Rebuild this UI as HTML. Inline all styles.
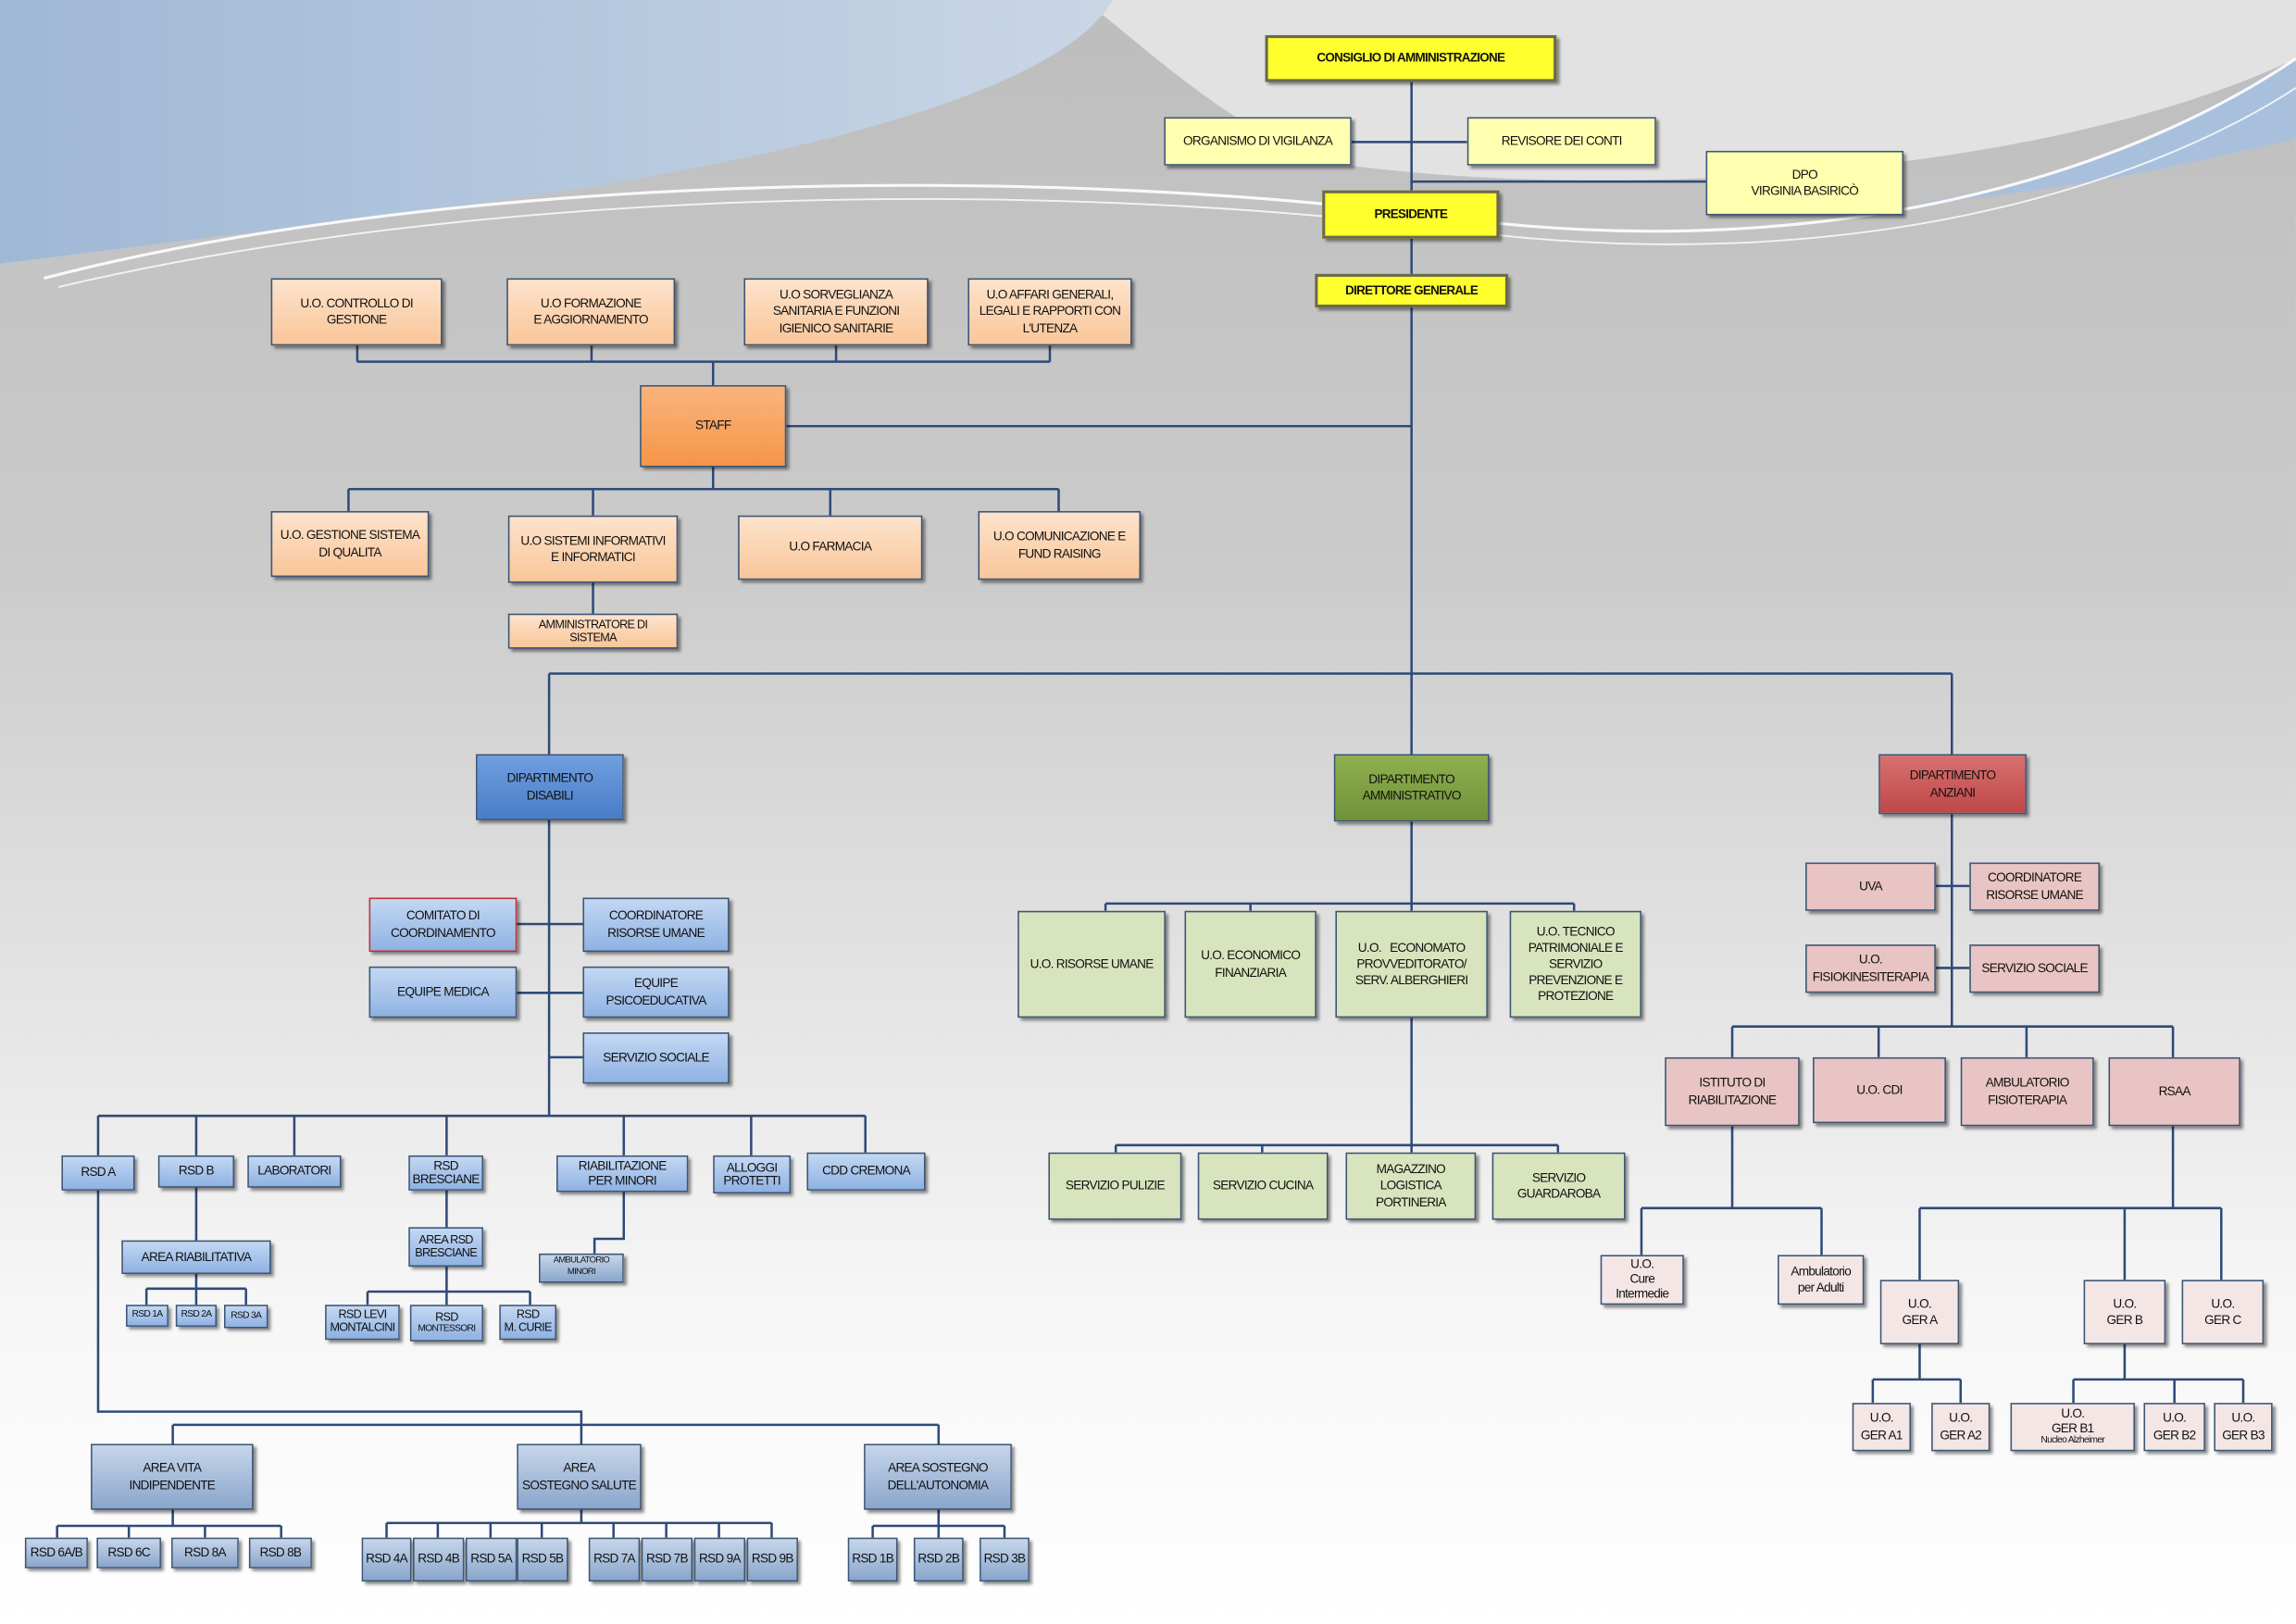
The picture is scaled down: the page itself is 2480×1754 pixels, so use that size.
<!DOCTYPE html>
<html><head><meta charset="utf-8"><style>
html,body{margin:0;padding:0;background:#fff}
#wrap{width:2480px;height:1754px;overflow:hidden;position:relative}
#s{position:absolute;left:0;top:0;width:1568px;height:1109px;transform:scale(1.5816);transform-origin:0 0;font-family:"Liberation Sans",sans-serif}
.b{position:absolute;display:flex;align-items:center;justify-content:center;text-align:center;border:1px solid #3c5676;box-shadow:2px 2px 2px rgba(0,0,0,.45);font-size:8.6px;line-height:1.3;box-sizing:border-box;color:#111;letter-spacing:-.45px;white-space:nowrap}
.y{background:#ffff2e;border:2px solid #6a6a50;font-weight:bold;font-size:8.5px}
.yl{background:#ffffb0}
.o{background:linear-gradient(#fde3cc,#f9c699)}
.os{background:linear-gradient(#fbb47c,#f59548)}
.bd{background:linear-gradient(#6f9fe0,#4a7dc8)}
.bl{background:linear-gradient(#c3d8f3,#8fb2e3)}
.ba{background:linear-gradient(#c6d6ea,#8aa6cc)}
.gd{background:linear-gradient(#8fb050,#6f9238)}
.gl{background:#d8e4bd}
.rd{background:linear-gradient(#d87070,#c04848)}
.rl{background:#e9c4c4}
.rp{background:#f5e6e6}
.sm{font-size:6.5px}
</style></head><body><div id="wrap"><div id="s">
<svg width="1568" height="1109" style="position:absolute;left:0;top:0">
<defs>
<linearGradient id="bg" x1="0" y1="0" x2="0" y2="1"><stop offset="0" stop-color="#bdbdbd"/><stop offset=".35" stop-color="#cbcbcb"/><stop offset=".8" stop-color="#f6f6f6"/><stop offset="1" stop-color="#fff"/></linearGradient>
<linearGradient id="bl" x1="0" y1="0" x2="1" y2="0"><stop offset="0" stop-color="#9fb8d6"/><stop offset="1" stop-color="#c9d6e6"/></linearGradient>
</defs>
<rect width="1568" height="1109" fill="url(#bg)"/>
<path d="M740,0 H1568 V40 C1400,120 1100,140 900,110 C830,80 780,30 740,0Z" fill="#e2e2e2"/>
<path d="M0,0 H760 C720,70 500,120 240,150 C120,165 40,175 0,180Z" fill="url(#bl)"/>
<path d="M1568,40 C1450,110 1380,130 1300,140 C1420,130 1500,110 1568,95Z" fill="#a9c0dc"/>
<path d="M30,190 C300,120 700,110 1000,150 C1250,180 1450,120 1568,40" stroke="#fff" stroke-width="2" fill="none" opacity=".9"/>
<path d="M40,196 C320,130 700,120 1000,158 C1260,190 1460,130 1568,60" stroke="#fff" stroke-width="1.2" fill="none" opacity=".8"/>
<g stroke="#2e4a78" stroke-width="1.6" fill="none">
<path d="M964,56V460 M923,97H1002 M964,124H1165 M537,291H964"/>
<path d="M244,236V247 M404,236V247 M571,236V247 M717,236V247 M244,247H717 M487,247V263"/>
<path d="M487,319V334 M238,334H723 M238,334V349 M405,334V352 M567,334V352 M723,334V349 M405,398V419"/>
<path d="M375,460H1333 M375,460V515 M964,460V515 M1333,460V515"/>
<path d="M375,560V762 M353,631H398 M353,678H398 M375,722H398"/>
<path d="M67,762H591 M67,762V789 M134,762V789 M201,762V789 M305,762V789 M426,762V789 M513,762V789 M591,762V787"/>
<path d="M134,811V847 M134,870V880 M100,880H168 M100,880V891 M134,880V891 M168,880V891"/>
<path d="M305,813V838 M305,865V882 M251,882H362 M251,882V891 M305,882V891 M362,882V891"/>
<path d="M426,814V846H406V856"/>
<path d="M67,813V964H397V973 M118,973H641 M118,973V986 M397,973V986 M641,973V986"/>
<path d="M118,1031V1042 M39,1042H192 M39,1042V1050 M88,1042V1050 M140,1042V1050 M192,1042V1050"/>
<path d="M397,1031V1040 M264,1040H527 M264,1040V1050 M299,1040V1050 M335,1040V1050 M370,1040V1050 M419,1040V1050 M455,1040V1050 M491,1040V1050 M527,1040V1050"/>
<path d="M641,1031V1042 M596,1042H686 M596,1042V1050 M641,1042V1050 M686,1042V1050"/>
<path d="M964,561V617 M755,617H1075 M755,617V622 M854,617V622 M964,617V622 M1075,617V622 M964,695V782 M762,782H1064 M762,782V787 M862,782V787 M964,782V787 M1064,782V787"/>
<path d="M1333,556V701 M1322,605H1345 M1322,661H1345 M1183,701H1484 M1183,701V722 M1283,701V722 M1384,701V722 M1484,701V722"/>
<path d="M1183,769V825 M1121,825H1244 M1121,825V857 M1244,825V857"/>
<path d="M1484,769V825 M1311,825H1517 M1311,825V874 M1451,825V874 M1517,825V874"/>
<path d="M1311,918V942 M1279,942H1339 M1279,942V958 M1339,942V958"/>
<path d="M1451,918V942 M1416,942H1532 M1416,942V958 M1485,942V958 M1532,942V958"/>
</g></svg>

<div class="b y" style="left:864px;top:24px;width:199px;height:32px">CONSIGLIO DI AMMINISTRAZIONE</div>
<div class="b yl" style="left:795px;top:80px;width:128px;height:33px">ORGANISMO DI VIGILANZA</div>
<div class="b yl" style="left:1002px;top:80px;width:129px;height:33px">REVISORE DEI CONTI</div>
<div class="b yl" style="left:1165px;top:103px;width:135px;height:44px">DPO<br>VIRGINIA BASIRICÒ</div>
<div class="b y" style="left:903px;top:130px;width:121px;height:33px">PRESIDENTE</div>
<div class="b y" style="left:898px;top:187px;width:132px;height:23px">DIRETTORE GENERALE</div>

<div class="b o" style="left:185px;top:190px;width:117px;height:46px">U.O. CONTROLLO DI<br>GESTIONE</div>
<div class="b o" style="left:346px;top:190px;width:115px;height:46px">U.O FORMAZIONE<br>E AGGIORNAMENTO</div>
<div class="b o" style="left:508px;top:190px;width:126px;height:46px">U.O SORVEGLIANZA<br>SANITARIA E FUNZIONI<br>IGIENICO SANITARIE</div>
<div class="b o" style="left:661px;top:190px;width:112px;height:46px">U.O AFFARI GENERALI,<br>LEGALI E RAPPORTI CON<br>L'UTENZA</div>
<div class="b os" style="left:437px;top:263px;width:100px;height:56px">STAFF</div>
<div class="b o" style="left:185px;top:349px;width:108px;height:45px">U.O. GESTIONE SISTEMA<br>DI QUALITA</div>
<div class="b o" style="left:347px;top:352px;width:116px;height:46px">U.O SISTEMI INFORMATIVI<br>E INFORMATICI</div>
<div class="b o" style="left:504px;top:352px;width:126px;height:44px">U.O FARMACIA</div>
<div class="b o" style="left:668px;top:349px;width:111px;height:47px">U.O COMUNICAZIONE E<br>FUND RAISING</div>
<div class="b o" style="left:347px;top:419px;width:116px;height:24px;font-size:8px;line-height:1.15">AMMINISTRATORE DI<br>SISTEMA</div>

<div class="b bd" style="left:325px;top:515px;width:101px;height:45px">DIPARTIMENTO<br>DISABILI</div>
<div class="b gd" style="left:911px;top:515px;width:106px;height:46px">DIPARTIMENTO<br>AMMINISTRATIVO</div>
<div class="b rd" style="left:1283px;top:515px;width:101px;height:41px">DIPARTIMENTO<br>ANZIANI</div>

<div class="b bl" style="left:252px;top:613px;width:101px;height:37px;border-color:#c0303a">COMITATO DI<br>COORDINAMENTO</div>
<div class="b bl" style="left:398px;top:613px;width:100px;height:37px">COORDINATORE<br>RISORSE UMANE</div>
<div class="b bl" style="left:252px;top:660px;width:101px;height:35px">EQUIPE MEDICA</div>
<div class="b bl" style="left:398px;top:660px;width:100px;height:35px">EQUIPE<br>PSICOEDUCATIVA</div>
<div class="b bl" style="left:398px;top:705px;width:100px;height:35px">SERVIZIO SOCIALE</div>

<div class="b bl" style="left:42px;top:789px;width:50px;height:24px">RSD A</div>
<div class="b bl" style="left:108px;top:789px;width:52px;height:22px">RSD B</div>
<div class="b bl" style="left:169px;top:789px;width:64px;height:22px">LABORATORI</div>
<div class="b bl" style="left:279px;top:789px;width:51px;height:24px;line-height:1.1">RSD<br>BRESCIANE</div>
<div class="b bl" style="left:380px;top:789px;width:90px;height:25px;line-height:1.1">RIABILITAZIONE<br>PER MINORI</div>
<div class="b bl" style="left:487px;top:789px;width:53px;height:26px;line-height:1.1">ALLOGGI<br>PROTETTI</div>
<div class="b bl" style="left:551px;top:787px;width:81px;height:26px">CDD CREMONA</div>
<div class="b bl" style="left:83px;top:847px;width:102px;height:23px">AREA RIABILITATIVA</div>
<div class="b bl sm" style="left:86px;top:891px;width:29px;height:15px">RSD 1A</div>
<div class="b bl sm" style="left:120px;top:891px;width:28px;height:15px">RSD 2A</div>
<div class="b bl sm" style="left:153px;top:891px;width:30px;height:16px">RSD 3A</div>
<div class="b bl" style="left:279px;top:838px;width:51px;height:27px;font-size:8px;line-height:1.1">AREA RSD<br>BRESCIANE</div>
<div class="b bl" style="left:222px;top:891px;width:51px;height:24px;font-size:8px;line-height:1.1">RSD LEVI<br>MONTALCINI</div>
<div class="b bl" style="left:280px;top:891px;width:50px;height:25px;font-size:8px;line-height:1.1;flex-direction:column">RSD<span style="font-size:6.5px">MONTESSORI</span></div>
<div class="b bl" style="left:341px;top:891px;width:39px;height:24px;font-size:8px;line-height:1.1">RSD<br>M. CURIE</div>
<div class="b ba" style="left:368px;top:856px;width:58px;height:20px;font-size:6px;line-height:1.3">AMBULATORIO<br>MINORI</div>

<div class="b ba" style="left:62px;top:986px;width:111px;height:45px">AREA VITA<br>INDIPENDENTE</div>
<div class="b ba" style="left:353px;top:986px;width:85px;height:45px">AREA<br>SOSTEGNO SALUTE</div>
<div class="b ba" style="left:590px;top:986px;width:101px;height:45px">AREA SOSTEGNO<br>DELL'AUTONOMIA</div>
<div class="b ba" style="left:17px;top:1050px;width:43px;height:21px">RSD 6A/B</div>
<div class="b ba" style="left:66px;top:1050px;width:44px;height:21px">RSD 6C</div>
<div class="b ba" style="left:117px;top:1050px;width:46px;height:21px">RSD 8A</div>
<div class="b ba" style="left:170px;top:1050px;width:43px;height:21px">RSD 8B</div>
<div class="b ba" style="left:247px;top:1050px;width:34px;height:30px">RSD 4A</div>
<div class="b ba" style="left:282px;top:1050px;width:35px;height:30px">RSD 4B</div>
<div class="b ba" style="left:318px;top:1050px;width:35px;height:30px">RSD 5A</div>
<div class="b ba" style="left:353px;top:1050px;width:35px;height:30px">RSD 5B</div>
<div class="b ba" style="left:402px;top:1050px;width:35px;height:30px">RSD 7A</div>
<div class="b ba" style="left:438px;top:1050px;width:35px;height:30px">RSD 7B</div>
<div class="b ba" style="left:474px;top:1050px;width:35px;height:30px">RSD 9A</div>
<div class="b ba" style="left:510px;top:1050px;width:35px;height:30px">RSD 9B</div>
<div class="b ba" style="left:579px;top:1050px;width:34px;height:30px">RSD 1B</div>
<div class="b ba" style="left:624px;top:1050px;width:34px;height:30px">RSD 2B</div>
<div class="b ba" style="left:669px;top:1050px;width:34px;height:30px">RSD 3B</div>

<div class="b gl" style="left:695px;top:622px;width:101px;height:73px">U.O. RISORSE UMANE</div>
<div class="b gl" style="left:809px;top:622px;width:90px;height:73px">U.O. ECONOMICO<br>FINANZIARIA</div>
<div class="b gl" style="left:912px;top:622px;width:104px;height:73px">U.O.&nbsp;&nbsp; ECONOMATO<br>PROVVEDITORATO/<br>SERV. ALBERGHIERI</div>
<div class="b gl" style="left:1031px;top:622px;width:90px;height:73px">U.O. TECNICO<br>PATRIMONIALE E<br>SERVIZIO<br>PREVENZIONE E<br>PROTEZIONE</div>
<div class="b gl" style="left:716px;top:787px;width:91px;height:46px">SERVIZIO PULIZIE</div>
<div class="b gl" style="left:818px;top:787px;width:89px;height:46px">SERVIZIO CUCINA</div>
<div class="b gl" style="left:919px;top:787px;width:89px;height:46px">MAGAZZINO<br>LOGISTICA<br>PORTINERIA</div>
<div class="b gl" style="left:1019px;top:787px;width:91px;height:46px">SERVIZIO<br>GUARDAROBA</div>

<div class="b rl" style="left:1233px;top:589px;width:89px;height:33px">UVA</div>
<div class="b rl" style="left:1345px;top:589px;width:89px;height:33px">COORDINATORE<br>RISORSE UMANE</div>
<div class="b rl" style="left:1233px;top:645px;width:89px;height:33px">U.O.<br>FISIOKINESITERAPIA</div>
<div class="b rl" style="left:1345px;top:645px;width:89px;height:33px">SERVIZIO SOCIALE</div>
<div class="b rl" style="left:1137px;top:722px;width:92px;height:47px">ISTITUTO DI<br>RIABILITAZIONE</div>
<div class="b rl" style="left:1238px;top:722px;width:91px;height:45px">U.O. CDI</div>
<div class="b rl" style="left:1339px;top:722px;width:91px;height:47px">AMBULATORIO<br>FISIOTERAPIA</div>
<div class="b rl" style="left:1440px;top:722px;width:90px;height:47px">RSAA</div>
<div class="b rp" style="left:1093px;top:857px;width:57px;height:34px;line-height:1.15">U.O.<br>Cure<br>Intermedie</div>
<div class="b rp" style="left:1214px;top:857px;width:59px;height:34px">Ambulatorio<br>per Adulti</div>
<div class="b rp" style="left:1284px;top:874px;width:54px;height:44px">U.O.<br>GER A</div>
<div class="b rp" style="left:1423px;top:874px;width:56px;height:44px">U.O.<br>GER B</div>
<div class="b rp" style="left:1490px;top:874px;width:56px;height:44px">U.O.<br>GER C</div>
<div class="b rp" style="left:1265px;top:958px;width:40px;height:33px">U.O.<br>GER A1</div>
<div class="b rp" style="left:1319px;top:958px;width:40px;height:33px">U.O.<br>GER A2</div>
<div class="b rp" style="left:1373px;top:958px;width:85px;height:33px;line-height:1.1;flex-direction:column"><span>U.O.</span><span>GER B1</span><span style="font-size:6.5px">Nucleo Alzheimer</span></div>
<div class="b rp" style="left:1464px;top:958px;width:42px;height:33px">U.O.<br>GER B2</div>
<div class="b rp" style="left:1512px;top:958px;width:40px;height:33px">U.O.<br>GER B3</div>
</div></div></body></html>
